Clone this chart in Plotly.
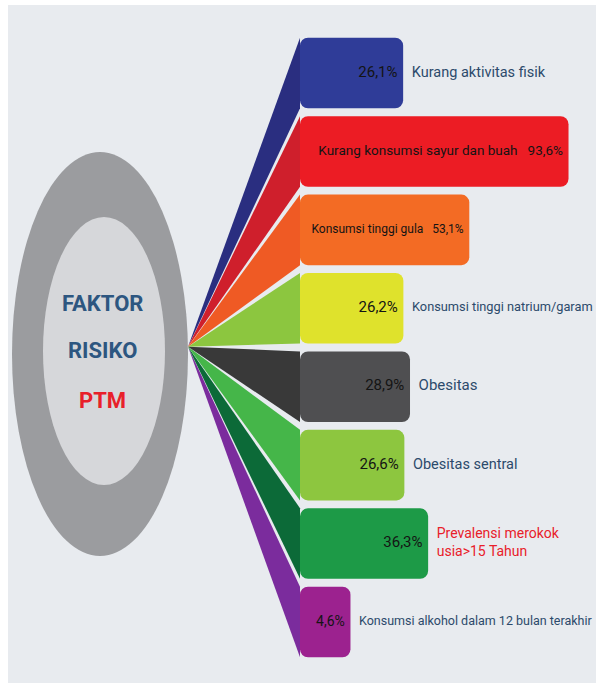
import plotly.graph_objects as go

# ---- data ----
categories = [
    "Kurang aktivitas fisik",
    "Kurang konsumsi sayur dan buah",
    "Konsumsi tinggi gula",
    "Konsumsi tinggi natrium/garam",
    "Obesitas",
    "Obesitas sentral",
    "Prevalensi merokok<br>usia>15 Tahun",
    "Konsumsi alkohol dalam 12 bulan terakhir",
]
values = [26.1, 93.6, 53.1, 26.2, 28.9, 26.6, 36.3, 4.6]
value_labels = ["26,1%", "93,6%", "53,1%", "26,2%", "28,9%", "26,6%", "36,3%", "4,6%"]
label_inside = [False, True, True, False, False, False, False, False]

# ---- styles ----
bar_colors = ["#2f3c98", "#ec1c24", "#f36b24", "#dfe22c", "#4f4f51", "#8dc63f", "#1d9a47", "#9c228f"]
fan_colors = ["#2a2e80", "#cf1f2c", "#ef5a24", "#8cc63f", "#393939", "#45b649", "#0c6a38", "#7b2c9d"]
label_colors = ["#2c4a6b", None, None, "#2c4a6b", "#2c4a6b", "#2c4a6b", "#e8202a", "#2c4a6b"]
label_sizes = [14.5, None, None, 12.8, 15, 14.5, 14, 12.5]
inside_sizes = [15, 13.5, 12, 15, 15, 15, 15, 14]

OFFSET = 16.0       # bars start a little before zero so that labels fit
BAR_W = 0.9
APEX = (-61.7, 3.49)  # where the fan meets the ring
LABEL_GAP = 3.5
INNER_PAD = 2.3
FONT = "Roboto, Liberation Sans, Arial, sans-serif"

n = len(values)
idx = list(range(n))

fig = go.Figure()

# bars
fig.add_trace(go.Bar(
    y=idx,
    x=[v + OFFSET for v in values],
    base=-OFFSET,
    orientation="h",
    width=BAR_W,
    marker=dict(color=bar_colors, cornerradius=8, line=dict(width=0)),
    hoverinfo="skip",
    showlegend=False,
))

# fans (drawn outer first, middle last)
order = [0, 1, 2, 3, 7, 6, 5, 4]
for i in order:
    fig.add_trace(go.Scatter(
        x=[APEX[0], -OFFSET, -OFFSET, APEX[0]],
        y=[APEX[1], i - BAR_W / 2, i + BAR_W / 2, APEX[1]],
        mode="lines",
        fill="toself",
        fillcolor=fan_colors[i],
        line=dict(width=0, color=fan_colors[i]),
        hoverinfo="skip",
        showlegend=False,
    ))

# texts inside the bars
for i in idx:
    if label_inside[i]:
        t = categories[i] + "\u00a0\u00a0\u00a0" + value_labels[i]
    else:
        t = value_labels[i]
    fig.add_trace(go.Scatter(
        x=[values[i] - INNER_PAD],
        y=[i],
        mode="text",
        text=[t],
        textposition="middle left",
        textfont=dict(family=FONT, size=inside_sizes[i], color="#141414"),
        hoverinfo="skip",
        showlegend=False,
    ))

# outside labels
for i in idx:
    if label_inside[i]:
        continue
    fig.add_trace(go.Scatter(
        x=[values[i] + LABEL_GAP],
        y=[i],
        mode="text",
        text=[categories[i]],
        textposition="middle right",
        textfont=dict(family=FONT, size=label_sizes[i], color=label_colors[i]),
        hoverinfo="skip",
        showlegend=False,
    ))

W, H = 596, 686
def px(x):
    return x / W
def py(y):
    return 1 - y / H

shapes = [
    # light panel
    dict(type="rect", xref="paper", yref="paper", x0=px(8), x1=px(596), y0=py(683), y1=py(5),
         fillcolor="#e8ebef", line=dict(width=0), layer="below"),
    # ring
    dict(type="circle", xref="paper", yref="paper", x0=px(12), x1=px(188), y0=py(556), y1=py(152),
         fillcolor="#9b9c9f", line=dict(width=0), layer="below"),
    dict(type="circle", xref="paper", yref="paper", x0=px(43), x1=px(165), y0=py(485), y1=py(217),
         fillcolor="#d6d7da", line=dict(width=0), layer="below"),
]

title_font = dict(family=FONT, size=22, color="#2d5680")
annotations = [
    dict(text="<b>FAKTOR</b>", x=px(102), y=py(303), font=title_font),
    dict(text="<b>RISIKO</b>", x=px(102), y=py(350), font=title_font),
    dict(text="<b>PTM</b>", x=px(102), y=py(400), font=dict(title_font, color="#e8202a")),
]
for a in annotations:
    a.update(xref="paper", yref="paper", xanchor="center", yanchor="middle", showarrow=False)

s = 2.45
x_lo = -OFFSET - 300 / s
x_hi = x_lo + W / s
dy = 78.43
y_top = -73 / dy
y_bot = (H - 73) / dy

fig.update_layout(
    width=W, height=H,
    margin=dict(l=0, r=0, t=0, b=0),
    paper_bgcolor="white",
    plot_bgcolor="rgba(0,0,0,0)",
    xaxis=dict(range=[x_lo, x_hi], visible=False, showgrid=False, zeroline=False, fixedrange=True),
    yaxis=dict(range=[y_bot, y_top], visible=False, showgrid=False, zeroline=False, fixedrange=True),
    shapes=shapes,
    annotations=annotations,
)

fig.write_html(
    "out.html",
    config={"displayModeBar": False},
    post_script="document.body.style.margin='0';document.body.style.overflow='hidden';",
)
